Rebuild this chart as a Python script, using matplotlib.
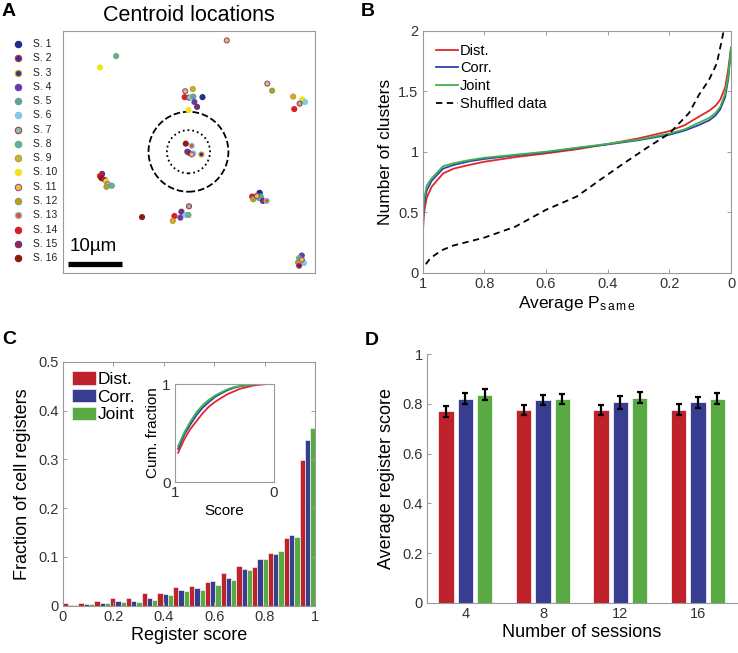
import numpy as np
import matplotlib
matplotlib.use('Agg')
import matplotlib.pyplot as plt
from matplotlib.patches import Circle

plt.rcParams['font.family'] = ['Liberation Sans', 'DejaVu Sans']
plt.rcParams['mathtext.fontset'] = 'custom'
plt.rcParams['mathtext.rm'] = 'Liberation Sans'
plt.rcParams['mathtext.it'] = 'Liberation Sans'

# ---- panel A: centroid locations (um) ----
session_labels = ['S. %d' % i for i in range(1, 17)]
session_faces = ['#1f2f8f', '#2a3590', '#2d3a96', '#5a3ea6', '#5b9ad2', '#80c8ec',
                 '#7fc6ae', '#62a8d6', '#a8c23a', '#f2e21e', '#f2c41e', '#df8a22',
                 '#e2562e', '#d71f26', '#b3202e', '#8a1a12']
session_edges = ['#1f2f8f', '#d03030', '#e8a020', '#7a3ab0', '#6ab04a', '#80c8ec',
                 '#a83a3a', '#6ab04a', '#e08a22', '#f2e21e', '#8a4ab8', '#6ab04a',
                 '#7ec8ec', '#d71f26', '#3a3aa8', '#8a1a12']

pt_x = [30.4, 9.9, 6.9,
        22.7, 24.1, 22.6, 23.4, 23.8, 24.2, 25.9, 24.4, 24.9, 23.3,
        22.8, 23.9, 23.1, 23.4, 24.2, 23.9, 25.7,
        37.9, 38.8, 42.7, 44.4, 44.9, 43.9, 42.9,
        7.3, 6.9, 7.2, 7.8, 8.1, 8.3, 8.8, 9.1, 8.1,
        14.7, 23.4, 22.0, 20.7, 21.8, 22.8, 23.3, 20.4,
        35.1, 35.8, 36.2, 36.5, 35.3, 36.7, 36.4, 37.1, 37.8, 36.0,
        44.3, 43.8, 43.6, 44.3, 44.7, 43.8, 44.3]
pt_y = [43.1, 40.2, 38.1,
        33.7, 34.1, 32.6, 32.5, 32.6, 32.7, 32.6, 31.7, 30.8, 30.2,
        24.0, 23.6, 22.5, 22.3, 22.2, 22.0, 22.0,
        35.1, 33.8, 32.7, 32.2, 31.7, 31.4, 30.4,
        18.4, 18.0, 17.6, 17.3, 17.0, 16.5, 16.3, 16.2, 16.0,
        10.4, 12.4, 11.4, 10.6, 10.3, 10.8, 10.8, 9.7,
        14.2, 14.2, 14.8, 14.9, 13.7, 14.2, 13.9, 13.4, 13.4, 14.3,
        3.3, 2.8, 2.0, 2.1, 1.9, 1.4, 2.5]
pt_session = [11, 8, 10,
              11, 9, 14, 7, 6, 5, 1, 4, 15, 10,
              16, 13, 15, 2, 6, 11, 3,
              11, 12, 9, 10, 6, 7, 14,
              15, 14, 16, 2, 10, 11, 13, 8, 12,
              16, 7, 15, 14, 4, 6, 8, 9,
              14, 16, 10, 1, 12, 5, 8, 15, 13, 11,
              4, 8, 12, 10, 6, 2, 11]
circle_center = (23.3, 22.5)
circle_radii = [7.4, 4.0]
scale_bar_um = 10

# ---- panel B: number of clusters vs average P_same ----
psame = [1.0, 0.999, 0.996, 0.987, 0.971, 0.934, 0.9, 0.85, 0.8, 0.7, 0.6, 0.5,
         0.4, 0.3, 0.2, 0.15, 0.104, 0.07, 0.05, 0.035, 0.019, 0.009, 0.0]
clusters_dist = [0, 0.35, 0.49, 0.62, 0.71, 0.82, 0.86, 0.89, 0.917, 0.955, 0.986, 1.02,
                 1.063, 1.11, 1.17, 1.22, 1.29, 1.34, 1.38, 1.43, 1.53, 1.68, 1.86]
clusters_corr = [0, 0.42, 0.56, 0.68, 0.76, 0.86, 0.89, 0.92, 0.94, 0.97, 0.995, 1.03,
                 1.06, 1.095, 1.14, 1.175, 1.22, 1.26, 1.3, 1.35, 1.45, 1.6, 1.85]
clusters_joint = [0, 0.46, 0.6, 0.72, 0.78, 0.88, 0.905, 0.93, 0.95, 0.975, 1.0, 1.033,
                  1.065, 1.1, 1.15, 1.185, 1.24, 1.28, 1.32, 1.37, 1.48, 1.63, 1.85]
psame_shuf = [0.99, 0.975, 0.95, 0.934, 0.9, 0.8, 0.7, 0.6, 0.5, 0.423, 0.35, 0.274,
              0.2, 0.136, 0.104, 0.072, 0.046, 0.03, 0.022]
clusters_shuf = [0.07, 0.12, 0.165, 0.19, 0.225, 0.29, 0.38, 0.52, 0.63, 0.77, 0.9,
                 1.03, 1.15, 1.32, 1.47, 1.59, 1.73, 1.92, 2.02]

# ---- panel C: register score histogram (16 bins) ----
hist_dist = [0.005, 0.005, 0.010, 0.016, 0.015, 0.027, 0.027, 0.038,
             0.040, 0.049, 0.066, 0.081, 0.080, 0.107, 0.138, 0.298]
hist_corr = [0.001, 0.003, 0.006, 0.010, 0.009, 0.015, 0.024, 0.032,
             0.036, 0.051, 0.057, 0.076, 0.096, 0.106, 0.144, 0.339]
hist_joint = [0.001, 0.003, 0.005, 0.007, 0.007, 0.012, 0.022, 0.030,
              0.033, 0.043, 0.053, 0.073, 0.096, 0.112, 0.141, 0.365]

# ---- panel D: average register score ----
n_sessions = [4, 8, 12, 16]
avg_dist = [0.770, 0.774, 0.776, 0.776]
avg_corr = [0.821, 0.815, 0.807, 0.807]
avg_joint = [0.838, 0.819, 0.826, 0.821]
err_dist = [0.022, 0.020, 0.019, 0.022]
err_corr = [0.022, 0.020, 0.027, 0.023]
err_joint = [0.022, 0.021, 0.021, 0.022]

RED, BLUE, GREEN = '#c0222b', '#393d92', '#5aaa44'
LRED, LBLUE, LGREEN = '#e2262b', '#3040b0', '#3cb44a'
SPINE = '#9a9a9a'
TICKC = '#333333'

W, H = 738, 653
fig = plt.figure(figsize=(W / 100, H / 100), dpi=100)


def px_axes(x0, y0, x1, y1):
    return fig.add_axes([x0 / W, 1 - y1 / H, (x1 - x0) / W, (y1 - y0) / H])


def style(ax, box=True):
    for side, sp in ax.spines.items():
        sp.set_color(SPINE)
        sp.set_linewidth(0.8)
        if not box and side in ('top', 'right'):
            sp.set_visible(False)
    ax.tick_params(direction='in', length=3, width=0.7, color=SPINE,
                   labelcolor=TICKC, labelsize=10.5, pad=3)
    if box:
        ax.tick_params(top=True, right=True)


# panel A
axA = px_axes(62.7, 30.7, 315.3, 273.3)
for sp in axA.spines.values():
    sp.set_color(SPINE)
    sp.set_linewidth(0.8)
axA.set_xticks([])
axA.set_yticks([])
axA.set_xlim(0, 46.8)
axA.set_ylim(0, 44.9)
for r, ls in zip(circle_radii, ['--', ':']):
    axA.add_patch(Circle(circle_center, r, fill=False, ls=ls, lw=1.3, color='k'))
idx = np.array(pt_session) - 1
axA.scatter(pt_x, pt_y, s=13, c=np.array(session_faces)[idx],
            edgecolors=np.array(session_edges)[idx], linewidths=0.8, zorder=3)
axA.plot([0.9, 0.9 + scale_bar_um], [1.8, 1.8], color='k', lw=3.8,
         solid_capstyle='butt')
axA.text(1.3, 4.9, '%dµm' % scale_bar_um, fontsize=13.5, va='center', ha='left')
axA.set_title('Centroid locations', fontsize=15.5, pad=7)
for i, lab in enumerate(session_labels):
    yy = 1 - (44 + i * 14.27) / H
    fig.lines.append(plt.Line2D([18 / W], [yy], marker='o', ms=4.6,
                                mfc=session_faces[i], mec=session_edges[i], mew=0.8,
                                transform=fig.transFigure))
    fig.text(33 / W, yy, lab, fontsize=7.5, va='center', ha='left', color='#222222')

# panel B
axB = px_axes(422.7, 30.7, 731, 272.7)
style(axB)
axB.plot(psame, clusters_dist, color=LRED, lw=1.3, label='Dist.')
axB.plot(psame, clusters_corr, color=LBLUE, lw=1.3, label='Corr.')
axB.plot(psame, clusters_joint, color=LGREEN, lw=1.3, label='Joint')
axB.plot(psame_shuf, clusters_shuf, color='k', lw=1.3, ls=(0, (3.5, 2.5)),
         label='Shuffled data')
axB.set_xlim(1, 0)
axB.set_ylim(0, 2)
axB.set_xticks([1, 0.8, 0.6, 0.4, 0.2, 0])
axB.set_xticklabels(['1', '0.8', '0.6', '0.4', '0.2', '0'])
axB.set_yticks([0, 0.5, 1, 1.5, 2])
axB.set_yticklabels(['0', '0.5', '1', '1.5', '2'])
axB.set_ylabel('Number of clusters', fontsize=12.5, labelpad=4)
axB.set_xlabel(r'Average P$_{\mathrm{s\,a\,m\,e}}$', fontsize=12.5, labelpad=2)
axB.legend(loc='upper left', frameon=False, fontsize=10.5, handlelength=1.5,
           handletextpad=0.15, labelspacing=0.25, borderaxespad=0.5)

# panel C
axC = px_axes(62.7, 361.7, 315.3, 605.7)
style(axC)
edges = np.linspace(0, 1, len(hist_dist) + 1)[:-1]
bw = 1 / len(hist_dist) / 3
for k, (vals, col, lab) in enumerate([(hist_dist, RED, 'Dist.'),
                                      (hist_corr, BLUE, 'Corr.'),
                                      (hist_joint, GREEN, 'Joint')]):
    axC.bar(edges + bw * (k + 0.5), vals, width=bw, color=col, edgecolor='white',
            linewidth=0.4, label=lab)
axC.set_xlim(0, 1)
axC.set_ylim(0, 0.5)
axC.set_xticks([0, 0.2, 0.4, 0.6, 0.8, 1])
axC.set_xticklabels(['0', '0.2', '0.4', '0.6', '0.8', '1'])
axC.set_yticks([0, 0.1, 0.2, 0.3, 0.4, 0.5])
axC.set_yticklabels(['0', '0.1', '0.2', '0.3', '0.4', '0.5'])
axC.set_ylabel('Fraction of cell registers', fontsize=13, labelpad=5)
axC.set_xlabel('Register score', fontsize=13, labelpad=2)
axC.legend(loc='upper left', frameon=False, fontsize=12.5, handlelength=1.35,
           handleheight=0.8, handletextpad=0.1, labelspacing=0.12,
           borderaxespad=0.35, borderpad=0.2)

axI = px_axes(175, 384, 274, 482)
style(axI)
axI.tick_params(labelsize=11)
centers = edges + 1.5 * bw
for vals, col in [(hist_dist, LRED), (hist_corr, LBLUE), (hist_joint, LGREEN)]:
    axI.plot(centers[::-1], np.cumsum(vals[::-1]), color=col, lw=1.3)
axI.set_xlim(1, 0)
axI.set_ylim(0, 1)
axI.set_xticks([1, 0])
axI.set_xticklabels(['1', '0'])
axI.set_yticks([0, 1])
axI.set_yticklabels(['0', '1'])
axI.set_xlabel('Score', fontsize=11, labelpad=3)
axI.set_ylabel('Cum. fraction', fontsize=11, labelpad=2)

# panel D
axD = px_axes(426.7, 354.3, 736.7, 602.7)
style(axD, box=False)
xs = np.array(n_sessions, dtype=float)
for off, vals, errs, col in [(-1, avg_dist, err_dist, RED),
                             (0, avg_corr, err_corr, BLUE),
                             (1, avg_joint, err_joint, GREEN)]:
    axD.bar(xs + off, vals, width=0.79, color=col, edgecolor='white', linewidth=0.5)
    axD.errorbar(xs + off, vals, yerr=errs, fmt='none', ecolor='k', elinewidth=1.6,
                 capsize=2.5, capthick=1.6)
axD.set_xlim(2, 18)
axD.set_ylim(0, 1)
axD.set_xticks(n_sessions)
axD.set_yticks([0, 0.2, 0.4, 0.6, 0.8, 1])
axD.set_yticklabels(['0', '0.2', '0.4', '0.6', '0.8', '1'])
axD.tick_params(axis='x', length=0)
axD.set_ylabel('Average register score', fontsize=13, labelpad=5)
axD.set_xlabel('Number of sessions', fontsize=13, labelpad=2)

for lx, ly, letter in [(2, 11, 'A'), (361, 11, 'B'), (2, 339, 'C'), (365, 340, 'D')]:
    fig.text(lx / W, 1 - ly / H, letter, fontsize=14, fontweight='bold',
             va='center', ha='left')

fig.savefig('out.png', dpi=100)
